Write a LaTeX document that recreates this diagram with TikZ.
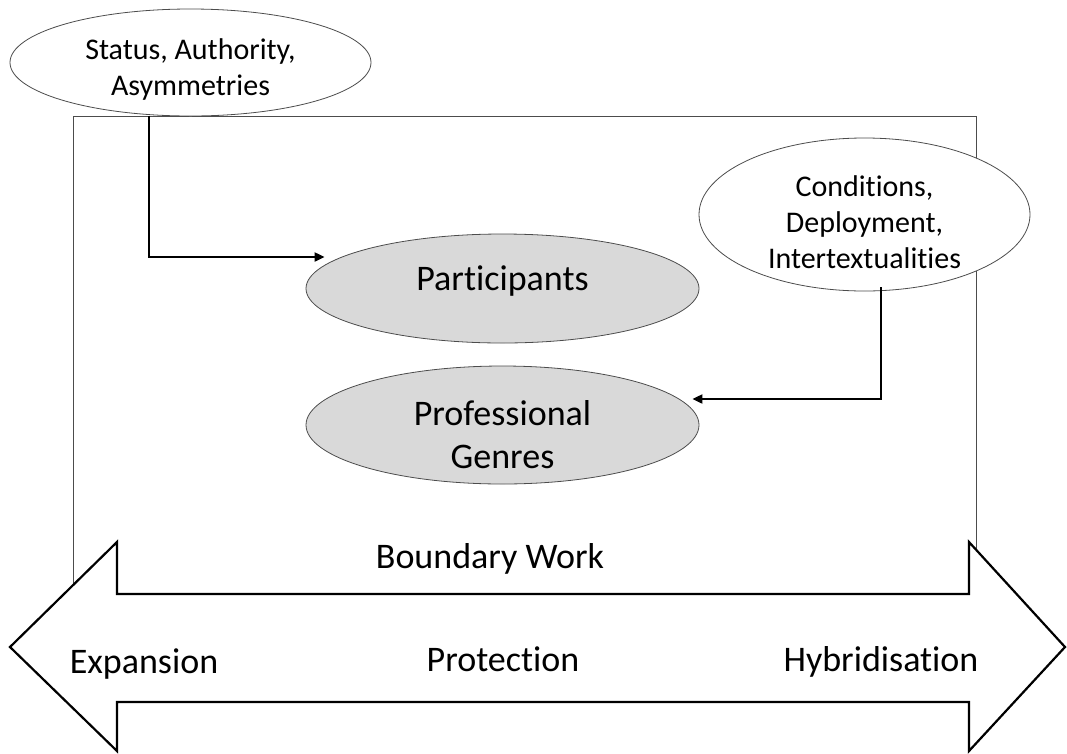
\documentclass[tikz,border=0pt]{standalone}
\usepackage{fontspec}
\setmainfont{Carlito}[Ligatures={NoCommon}]
\usetikzlibrary{shapes.geometric,arrows.meta,calc}
\tikzset{
  smallfont/.style={font=\fontsize{30}{36}\selectfont},
  bigfont/.style={font=\fontsize{36}{43}\selectfont},
  whiteell/.style={ellipse, draw=black!70, line width=0.8pt, fill=white, inner sep=0pt},
  grayell/.style={ellipse, draw=black!70, line width=0.8pt, fill=black!15, inner sep=0pt},
  smalltxt/.style={inner sep=0pt, align=center, smallfont},
  conn/.style={line width=2pt, -{Triangle[length=10pt,width=9pt]}},
  frame/.style={draw=black!70, line width=1pt},
  bigarrow/.style={draw=black, line width=2.2pt, fill=white, line join=miter},
  lbl/.style={inner sep=0pt, align=center, bigfont}
}
\begin{document}
\begin{tikzpicture}[x=1pt,y=-1pt]
\useasboundingbox (0,0) rectangle (1067,753);
% frame rectangle
\draw[frame] (73,116) rectangle (976,650);
% ellipses
\node[whiteell, minimum width=361pt, minimum height=107pt] (S) at (190.5,62.5) {};
\node[smalltxt] (St) at (190.5,69) {Status, Authority,\\Asymmetries};
\node[whiteell, minimum width=331pt, minimum height=153pt] (C) at (864.5,214.5) {};
\node[smalltxt] (Ct) at (864.5,222.5) {Conditions,\\Deployment,\\Intertextualities};
\node[grayell, minimum width=393pt, minimum height=109pt] (P) at (502.5,288.5) {};
\node[lbl] (Pt) at (502.5,281) {Participants};
\node[grayell, minimum width=393pt, minimum height=118pt] (G) at (502.5,425) {};
\node[lbl] (Gt) at (502.5,435) {Professional\\Genres};
% connectors
\draw[conn] (S.south -| 149,0) |- ([shift={(19,-31.5)}]P.west);
\draw[conn] ([yshift=4]C.south -| 881,0) |- ([shift={(-7,-26)}]G.east);
% big double arrow
\draw[bigarrow] (10,647) -- (117,542) -- (117,594) -- (969,594) -- (969,542)
  -- (1065,647) -- (969,751) -- (969,702) -- (117,702) -- (117,751) -- cycle;
% labels
\node[lbl] (bw) at (490,559) {Boundary Work};
\node[lbl] (ex) at (144,664) {Expansion};
\node[lbl] (pr) at (503,659) {Protection};
\node[lbl] (hy) at (881,662) {Hybridisation};
\end{tikzpicture}
\end{document}
